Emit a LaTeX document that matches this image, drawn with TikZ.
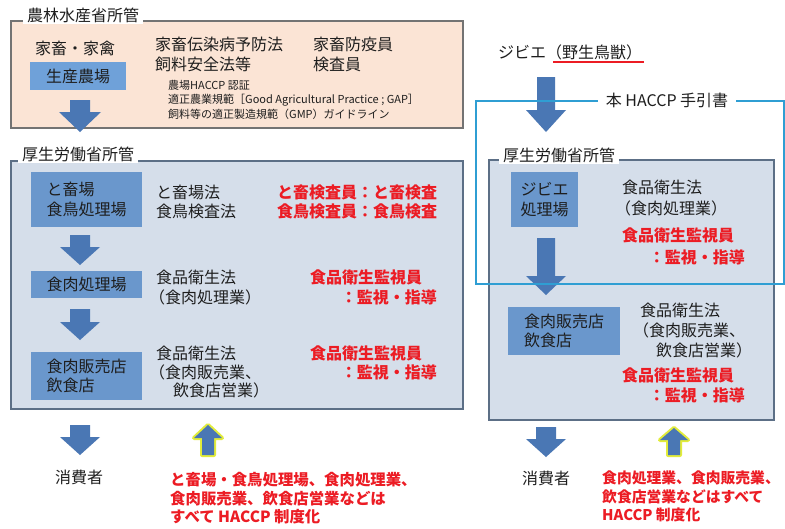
\documentclass[tikz,border=0pt]{standalone}
\usepackage{fontspec}
\setmainfont{Noto Sans CJK JP}
\definecolor{pinkfill}{HTML}{FBE4D5}
\definecolor{graybd}{HTML}{737373}
\definecolor{lbfill}{HTML}{D5DEEA}
\definecolor{lbbd}{HTML}{5C6F86}
\definecolor{boxblue}{HTML}{6A97CC}
\definecolor{farmblue}{HTML}{6FA1D9}
\definecolor{arrblue}{HTML}{4A77B4}
\definecolor{redtxt}{HTML}{EC1C24}
\definecolor{cyanbd}{HTML}{2F9ED3}
\definecolor{txt}{HTML}{1E1E1E}
\definecolor{glow}{HTML}{E2EC3A}
\newcommand\BlkDown[6]{\fill[arrowfill] (#1-#5,#2) -- (#1+#5,#2) -- (#1+#5,#3) -- (#1+#6,#3) -- (#1,#4) -- (#1-#6,#3) -- (#1-#5,#3) -- cycle;}
\newcommand\BlkUp[6]{%
  \filldraw[draw=glow, line width=4pt, line join=round, fill=arrblue] (#1-#5,#4) -- (#1+#5,#4) -- (#1+#5,#3) -- (#1+#6,#3) -- (#1,#2) -- (#1-#6,#3) -- (#1-#5,#3) -- cycle;
  \fill[arrowfill] (#1-#5,#4) -- (#1+#5,#4) -- (#1+#5,#3) -- (#1+#6,#3) -- (#1,#2) -- (#1-#6,#3) -- (#1-#5,#3) -- cycle;}
\begin{document}
\begin{tikzpicture}[x=1pt,y=-1pt,
  every node/.style={inner sep=0pt, text=txt, font=\fontsize{16}{19.5}\selectfont},
  lbl/.style={fill=white, inner xsep=4pt, inner ysep=2pt, anchor=west},
  pinkarea/.style={draw=graybd, fill=pinkfill, line width=1.5pt, anchor=north west},
  bluearea/.style={draw=lbbd, fill=lbfill, line width=1.5pt, anchor=north west},
  bluebox/.style={fill=boxblue, align=left},
  body/.style={anchor=west, align=left},
  redb/.style={text=redtxt, font=\fontsize{16}{19.5}\selectfont\bfseries},
  redlow/.style={anchor=west, align=left, text=redtxt, font=\fontsize{15.4}{18.5}\selectfont\bfseries},
  small/.style={anchor=west, font=\fontsize{11}{13}\selectfont},
  arrowfill/.style={fill=arrblue},
  cyanframe/.style={draw=cyanbd, line width=2pt, anchor=north west}]
\fill[white] (0,0) rectangle (785,528);
\useasboundingbox (0,0) rectangle (785,528);

% ---------- MAFF area ----------
\node[pinkarea, minimum width=452pt, minimum height=107pt] (maff) at (10,20) {};
\node[lbl] (maffl) at (23,15) {農林水産省所管};
\node[body] (livestock) at (35,48) {家畜・家禽};
\node[bluebox, fill=farmblue, minimum width=96pt, minimum height=28pt] (farm) at (78,76) {生産農場};
\node[body] (law1) at (155,44) {家畜伝染病予防法};
\node[body] (law2) at (155,64) {飼料安全法等};
\node[body] (off1) at (313,44) {家畜防疫員};
\node[body] (off2) at (313,64) {検査員};
\node[small] (s1) at (168,85) {農場HACCP 認証};
\node[small] (s2) at (168,100) {適正農業規範［Good Agricultural Practice ; GAP］};
\node[small] (s3) at (168,114) {飼料等の適正製造規範（GMP）ガイドライン};
\BlkDown{80}{100}{112}{132}{10}{21}

% ---------- MHLW left area ----------
\node[bluearea, minimum width=452pt, minimum height=248pt] (mhlwL) at (10,160) {};
\node[lbl] (mhlwLl) at (18,154) {厚生労働省所管};
\node[bluebox, minimum width=111pt, minimum height=55pt] (slaughter) at (86.5,199.5) {と畜場\\食鳥処理場};
\node[bluebox, minimum width=111pt, minimum height=27pt] (meatproc) at (86.5,284.5) {食肉処理場};
\node[bluebox, minimum width=111pt, minimum height=48pt] (shopL) at (86.5,376) {食肉販売店\\飲食店};
\BlkDown{80}{235}{247}{265}{10}{20}
\BlkDown{80}{309}{322}{340}{10}{20}
\node[body] (t1) at (156,192) {と畜場法};
\node[body] (t2) at (156,211) {食鳥検査法};
\node[body, redb] (r1) at (277,192) {と畜検査員：と畜検査};
\node[body, redb] (r2) at (277,211) {食鳥検査員：食鳥検査};
\node[body] (t3) at (156,277) {食品衛生法};
\node[body] (t4) at (149,297) {（食肉処理業）};
\node[body, redb] (r3) at (310,277) {食品衛生監視員};
\node[redb, anchor=east] (r4) at (437,297) {：監視・指導};
\node[body] (t5) at (156,353) {食品衛生法};
\node[body] (t6) at (149,372) {（食肉販売業、};
\node[body] (t7) at (173,390) {飲食店営業）};
\node[body, redb] (r5) at (310,353) {食品衛生監視員};
\node[redb, anchor=east] (r6) at (437,372) {：監視・指導};

% ---------- bottom left ----------
\BlkDown{80}{425}{437}{455}{10}{20}
\node[body] (consL) at (55,477) {消費者};
\BlkUp{208}{425}{438}{455}{6}{14}
\node[redlow] (haccpL) at (170,498.5) {と畜場・食鳥処理場、食肉処理業、\\食肉販売業、飲食店営業などは\\すべて HACCP 制度化};

% ---------- right side ----------
\node[body] (gibier) at (498,52) {ジビエ（野生鳥獣）};
\draw[redtxt, line width=1.2pt] (553,62) -- (644,62);
\BlkDown{546}{77}{110}{132}{9}{20}
\node[bluearea, minimum width=285pt, minimum height=260pt] (mhlwR) at (488,159) {};
\node[lbl] (mhlwRl) at (499,155) {厚生労働省所管};
\node[bluebox, minimum width=67pt, minimum height=55pt] (gproc) at (544.5,199.5) {ジビエ\\処理場};
\BlkDown{546}{238}{276}{295}{9}{20}
\node[bluebox, minimum width=112pt, minimum height=48pt] (shopR) at (564,331) {食肉販売店\\飲食店};
\node[body] (u1) at (622,187) {食品衛生法};
\node[body] (u2) at (615,208) {（食肉処理業）};
\node[body, redb] (q1) at (622,235) {食品衛生監視員};
\node[redb, anchor=east] (q2) at (745,257) {：監視・指導};
\node[body] (u3) at (640,310) {食品衛生法};
\node[body] (u4) at (633,330) {（食肉販売業、};
\node[body] (u5) at (656,350) {飲食店営業）};
\node[body, redb] (q3) at (622,375) {食品衛生監視員};
\node[redb, anchor=east] (q4) at (745,395) {：監視・指導};
\node[cyanframe, minimum width=308pt, minimum height=183pt] (manual) at (475,100) {};
\node[fill=white, inner xsep=8pt, inner ysep=2pt] (manuall) at (667,100) {本 HACCP 手引書};

% ---------- bottom right ----------
\BlkDown{546}{427}{439}{457}{10}{20}
\node[body] (consR) at (522,478) {消費者};
\BlkUp{674}{428}{440}{455}{6}{14}
\node[redlow, font=\fontsize{14.8}{18.5}\selectfont\bfseries] (haccpR) at (602,496.5) {食肉処理業、食肉販売業、\\飲食店営業などはすべて\\HACCP 制度化};
\end{tikzpicture}
\end{document}
